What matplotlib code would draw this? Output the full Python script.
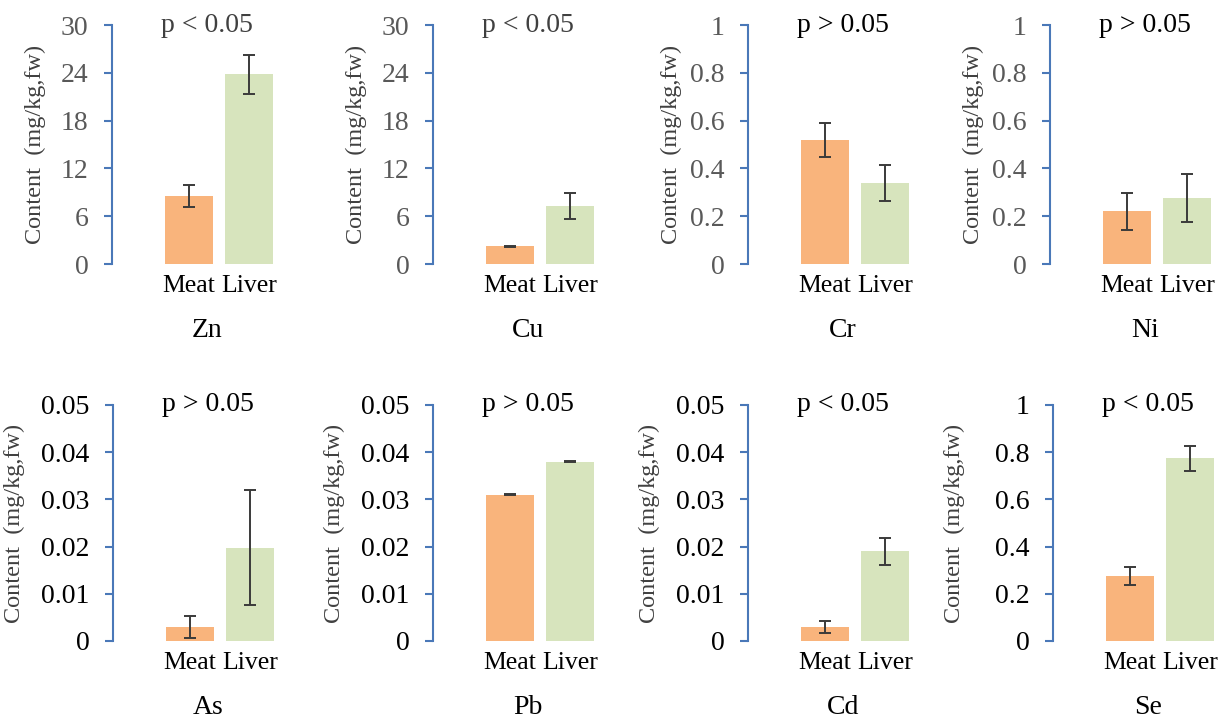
import matplotlib.pyplot as plt
import matplotlib.transforms as mtransforms
import numpy as np

# data
elements = ['Zn', 'Cu', 'Cr', 'Ni', 'As', 'Pb', 'Cd', 'Se']
groups = ['Meat', 'Liver']
meat = [8.5, 2.2, 0.52, 0.22, 0.003, 0.031, 0.003, 0.275]
liver = [23.8, 7.3, 0.34, 0.275, 0.0198, 0.038, 0.019, 0.775]
meat_err = [1.4, 0.1, 0.072, 0.077, 0.0024, 0.0001, 0.0013, 0.038]
liver_err = [2.4, 1.6, 0.075, 0.1, 0.0122, 0.0001, 0.0028, 0.053]
pvals = ['p < 0.05', 'p < 0.05', 'p > 0.05', 'p > 0.05',
         'p > 0.05', 'p > 0.05', 'p < 0.05', 'p < 0.05']
ymax = [30, 30, 1, 1, 0.05, 0.05, 0.05, 1]
ytick_sets = [
    [0, 6, 12, 18, 24, 30],
    [0, 6, 12, 18, 24, 30],
    [0, 0.2, 0.4, 0.6, 0.8, 1],
    [0, 0.2, 0.4, 0.6, 0.8, 1],
    [0, 0.01, 0.02, 0.03, 0.04, 0.05],
    [0, 0.01, 0.02, 0.03, 0.04, 0.05],
    [0, 0.01, 0.02, 0.03, 0.04, 0.05],
    [0, 0.2, 0.4, 0.6, 0.8, 1],
]
ytick_labels = [
    ['0', '6', '12', '18', '24', '30'],
    ['0', '6', '12', '18', '24', '30'],
    ['0', '0.2', '0.4', '0.6', '0.8', '1'],
    ['0', '0.2', '0.4', '0.6', '0.8', '1'],
    ['0', '0.01', '0.02', '0.03', '0.04', '0.05'],
    ['0', '0.01', '0.02', '0.03', '0.04', '0.05'],
    ['0', '0.01', '0.02', '0.03', '0.04', '0.05'],
    ['0', '0.2', '0.4', '0.6', '0.8', '1'],
]

plt.rcParams['font.family'] = ['Liberation Serif', 'DejaVu Serif']

W, H = 1221, 723
fig = plt.figure(figsize=(W / 100, H / 100), dpi=100)

axis_left = [112, 433, 748, 1050, 113, 433, 748, 1053]
row_top = [25, 405]
row_bot = [264, 641]
ax_w = 162

spine_col = '#4a78b8'
orange = '#f9b47c'
green = '#d7e4bd'
fs = 20
fs_x = 18.5
fs_lab = 17.5

for i, el in enumerate(elements):
    r = i // 4
    left = axis_left[i] / W
    bottom = 1 - row_bot[r] / H
    height = (row_bot[r] - row_top[r]) / H
    ax = fig.add_axes((left, bottom, ax_w / W, height))

    x = np.arange(len(groups))
    ax.bar(x, [meat[i], liver[i]], width=0.8, color=[orange, green])
    ax.errorbar(x, [meat[i], liver[i]], yerr=[meat_err[i], liver_err[i]],
                fmt='none', ecolor='#3a3a3a', elinewidth=1.4, capsize=4,
                capthick=1.4)

    ax.set_xlim(-1.28, 1.42)
    ax.set_ylim(0, ymax[i])
    for s in ['top', 'right', 'bottom']:
        ax.spines[s].set_visible(False)
    ax.spines['left'].set_color(spine_col)
    ax.spines['left'].set_linewidth(1.5)

    ax.set_yticks(ytick_sets[i])
    tick_col = '#595959' if r == 0 else 'black'
    ax.set_yticklabels(ytick_labels[i], fontsize=fs, color=tick_col)
    ax.tick_params(axis='y', direction='out', length=6, width=1.5,
                   color=spine_col, pad=11)

    ax.set_xticks(x)
    ax.set_xticklabels(groups, fontsize=fs_x, color='black')
    ax.tick_params(axis='x', length=0, pad=8)

    ax.set_ylabel('Content  (mg/kg,fw)', fontsize=fs_lab, color='#404040')
    ax.yaxis.set_label_coords(-66 / ax_w if r == 0 else -88 / ax_w, 0.5)

    trans = mtransforms.blended_transform_factory(ax.transData, ax.transAxes)
    pcol = '#404040' if i < 2 else 'black'
    ax.text(0.3, 1.0, pvals[i], transform=trans, ha='center', va='center',
            fontsize=fs, color=pcol)
    ax.text(0.3, -0.28, el, transform=trans, ha='center', va='center',
            fontsize=fs, color='black')

fig.savefig('out.png', dpi=100)
